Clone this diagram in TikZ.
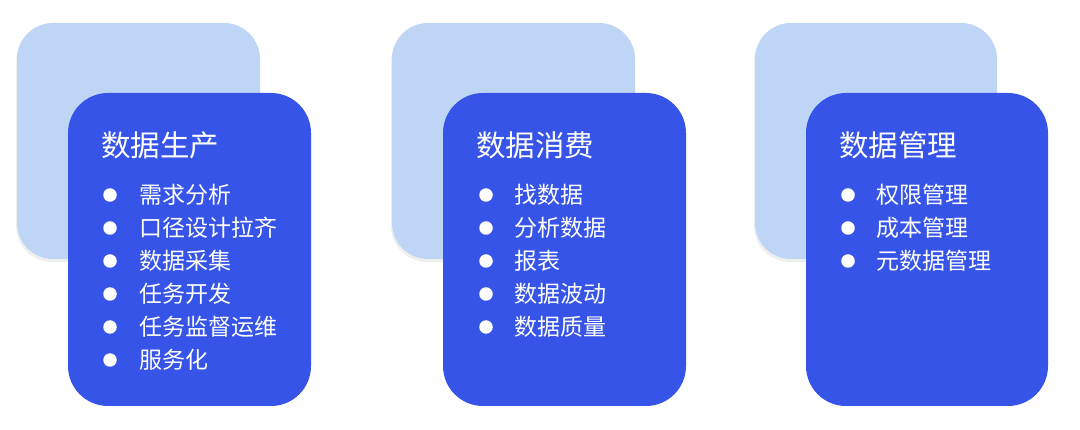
\documentclass[tikz,border=0pt]{standalone}
\usepackage{fontspec}
\setmainfont{Noto Sans CJK SC}
\usetikzlibrary{shadows}
\definecolor{lightcard}{HTML}{BED5F5}
\definecolor{darkcard}{HTML}{3654E8}
\tikzset{
  backcard/.style={fill=lightcard, draw=none, rounded corners=36pt,
    drop shadow={opacity=0.12, shadow xshift=-1pt, shadow yshift=-3pt}},
  frontcard/.style={fill=darkcard, draw=none, rounded corners=40pt},
  cardtitle/.style={anchor=west, text=white, inner sep=0pt, font=\fontsize{29.5}{31}\selectfont},
  item/.style={anchor=west, text=white, inner sep=0pt, font=\fontsize{23}{25}\selectfont},
  dot/.style={circle, fill=white, draw=none, minimum size=13.5pt, inner sep=0pt},
}
\begin{document}
\begin{tikzpicture}[x=1pt, y=-1pt]
\useasboundingbox[fill=white] (0,0) rectangle (1080,430);
% group 1
\path[backcard] (17,23) rectangle (260,259);
\path[frontcard] (68,93) rectangle (311,406);
\node[cardtitle] (t1) at (101,145) {数据生产};
\foreach \i/\txt in {0/需求分析,1/口径设计拉齐,2/数据采集,3/任务开发,4/任务监督运维,5/服务化}{
  \node[dot] (d1\i) at (110,195+33*\i) {};
  \node[item] (i1\i) at (139,195+33*\i) {\txt};
}
% group 2
\path[backcard] (392,23) rectangle (635,259);
\path[frontcard] (443,93) rectangle (686,406);
\node[cardtitle] (t2) at (476,145) {数据消费};
\foreach \i/\txt in {0/找数据,1/分析数据,2/报表,3/数据波动,4/数据质量}{
  \node[dot] (d2\i) at (486,195+33*\i) {};
  \node[item] (i2\i) at (514,195+33*\i) {\txt};
}
% group 3
\path[backcard] (755,23) rectangle (997,259);
\path[frontcard] (806,93) rectangle (1048,406);
\node[cardtitle] (t3) at (839,145) {数据管理};
\foreach \i/\txt in {0/权限管理,1/成本管理,2/元数据管理}{
  \node[dot] (d3\i) at (848,195+33*\i) {};
  \node[item] (i3\i) at (876,195+33*\i) {\txt};
}
\end{tikzpicture}
\end{document}
